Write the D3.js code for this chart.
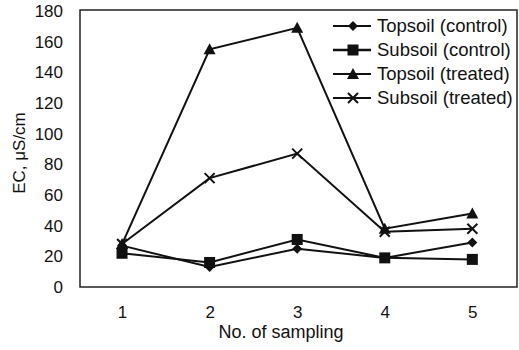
<!DOCTYPE html>
<html><head><meta charset="utf-8">
<script src="https://cdn.jsdelivr.net/npm/d3@7"></script>
<style>body{margin:0;background:#fff}svg{display:block}text{font-family:"Liberation Sans",Arial,sans-serif;fill:#111}</style>
</head><body><svg id="c" width="519" height="350"></svg>
<script>
const samplings = [1, 2, 3, 4, 5];
const yTicks = [0, 20, 40, 60, 80, 100, 120, 140, 160, 180];
const seriesNames = ["Topsoil (control)", "Subsoil (control)", "Topsoil (treated)", "Subsoil (treated)"];
const topsoilControl = [27, 13, 25, 19, 29];
const subsoilControl = [22, 16, 31, 19, 18];
const topsoilTreated = [28, 155, 169, 38, 48];
const subsoilTreated = [28, 71, 87, 36, 38];
const markers = ["diamond", "square", "triangle", "cross"];

const svg = d3.select("#c");
const L = 80, R = 517, T = 10, B = 287;
const x = d3.scaleLinear().domain([0.52, 5.51]).range([L, R]);
const y = d3.scaleLinear().domain([0, 180]).range([B, T + 1]);

svg.append("rect").attr("x", L).attr("y", T).attr("width", R - L).attr("height", B - T)
  .attr("fill", "none").attr("stroke", "#222").attr("stroke-width", 1.5);

const yAxis = d3.axisLeft(y).tickValues(yTicks).tickSize(0).tickPadding(17);
const gy = svg.append("g").attr("transform", `translate(${L},0)`).call(yAxis);
gy.select(".domain").remove();
gy.selectAll("text").style("font-size", "17px").attr("fill", "#111");

const xAxis = d3.axisBottom(x).tickValues(samplings).tickFormat(d3.format("d")).tickSize(0).tickPadding(19);
const gx = svg.append("g").attr("transform", `translate(0,${B})`).call(xAxis);
gx.select(".domain").remove();
gx.selectAll("text").style("font-size", "17px").attr("fill", "#111");

svg.append("text").attr("x", 281).attr("y", 338).attr("text-anchor", "middle")
  .style("font-size", "18px").text("No. of sampling");
svg.append("text").attr("transform", "translate(24.5,153) rotate(-90)").attr("text-anchor", "middle")
  .style("font-size", "17px").text("EC, μS/cm");

const allSeries = [topsoilControl, subsoilControl, topsoilTreated, subsoilTreated];
const line = d3.line().x((d, i) => x(samplings[i])).y(d => y(d));

function drawMarker(g, type, cx, cy) {
  if (type === "diamond") {
    g.append("path").attr("d", `M${cx},${cy-5}L${cx+5},${cy}L${cx},${cy+5}L${cx-5},${cy}Z`).attr("fill", "#111");
  } else if (type === "square") {
    g.append("rect").attr("x", cx - 5.5).attr("y", cy - 5.5).attr("width", 11).attr("height", 11).attr("fill", "#111");
  } else if (type === "triangle") {
    g.append("path").attr("d", `M${cx},${cy-6}L${cx+6},${cy+5}L${cx-6},${cy+5}Z`).attr("fill", "#111");
  } else {
    g.append("path").attr("d", `M${cx-5},${cy-5}L${cx+5},${cy+5}M${cx+5},${cy-5}L${cx-5},${cy+5}`)
      .attr("stroke", "#111").attr("stroke-width", 2).attr("fill", "none");
  }
}

allSeries.forEach((s, k) => {
  const g = svg.append("g");
  g.append("path").datum(s).attr("d", line).attr("fill", "none").attr("stroke", "#111").attr("stroke-width", 2);
  s.forEach((v, i) => drawMarker(g, markers[k], x(samplings[i]), y(v)));
});

// legend
seriesNames.forEach((n, k) => {
  const ly = 26 + k * 24;
  const g = svg.append("g");
  g.append("line").attr("x1", 333).attr("x2", 371).attr("y1", ly).attr("y2", ly)
    .attr("stroke", "#111").attr("stroke-width", k === 1 ? 2.5 : 2);
  drawMarker(g, markers[k], 353, ly);
  g.append("text").attr("x", 377).attr("y", ly).attr("dy", "0.35em")
    .style("font-size", "18.5px").text(n);
});
</script></body></html>
